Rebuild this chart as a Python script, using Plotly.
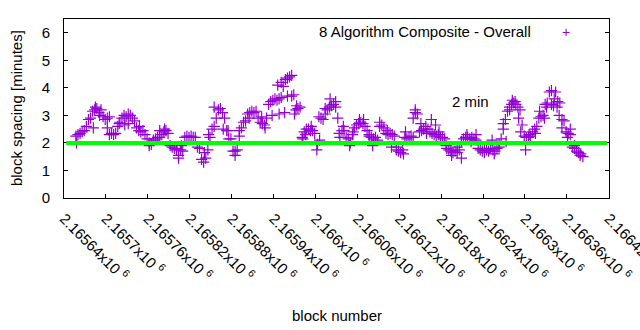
import plotly.graph_objects as go

# ---------------- data ----------------
# main track: one reading every 3 blocks, starting at block 2165657
main_start = 2165657
main_step = 3
main_values = [
    2.25, 2.3, 2.35, 2.4, 2.45, 2.6, 2.85, 2.9, 3.15, 3.2,
    3.25, 3.1, 3.2, 2.95, 2.85, 2.9, 2.95, 2.35, 2.3, 2.35,
    2.6, 2.75, 2.9, 3.0, 2.95, 2.7, 3.0, 2.9, 2.8, 2.55,
    2.45, 2.4, 2.45, 2.3, 2.15, 2.0, 1.95, 2.1, 2.15, 2.2,
    2.2, 2.3, 2.4, 2.45, 2.35, 1.9, 1.85, 1.8, 1.75, 1.55,
    1.75, 1.7, 2.2, 2.25, 2.2, 2.25, 2.2, 2.2, 1.85, 1.8,
    1.4, 1.3, 1.45, 1.75, 2.2, 2.5, 2.6, 2.9, 3.2, 3.25,
    3.1, 2.9, 2.45, 2.15, 2.15, 1.7, 1.7, 1.75, 2.25, 2.55,
    2.75, 2.8, 3.05, 3.1, 3.15, 3.1, 3.15, 2.9, 2.75, 2.7,
    2.65, 2.9, 3.4, 3.5, 3.55, 3.6, 3.55, 3.6, 3.65, 4.05,
    4.3, 4.35, 4.4, 3.7, 3.75, 3.2, 3.25, 3.3, 2.2, 2.4,
    2.5, 2.5, 2.45, 2.45, 2.35, 1.75, 2.95, 2.9, 2.85, 3.25,
    3.2, 3.3, 3.35, 3.4, 3.5, 2.9, 2.2, 2.45, 2.45, 2.2,
    2.15, 2.0, 2.3, 2.55, 2.65, 2.7, 2.75, 2.7, 2.6, 2.45,
    2.25, 2.2, 2.15, 2.2, 2.1, 2.6, 2.65, 2.55, 2.35, 2.3,
    2.35, 2.3, 2.25, 1.75, 1.7, 1.65, 1.75, 2.2, 2.15, 2.2,
    2.25, 2.2, 3.1, 3.05, 2.4, 2.45, 2.5, 2.6, 2.5, 2.4,
    2.35, 2.3, 2.25, 2.3, 2.2, 2.2, 2.15, 1.8, 1.75, 1.7,
    1.65, 1.7, 1.65, 1.75, 2.05, 2.15, 2.2, 2.2, 2.15, 2.2,
    2.15, 2.1, 1.8, 1.75, 1.7, 1.75, 1.75, 1.7, 1.8, 1.75,
    1.7, 1.8, 1.85, 2.15, 2.5, 2.85, 3.15, 3.3, 3.4, 3.45,
    3.4, 3.3, 3.2, 2.65, 2.25, 2.2, 2.2, 2.25, 2.4, 2.5,
    2.6, 2.9, 2.95, 3.0, 3.4, 3.45, 3.85, 3.4, 3.35, 3.85,
    3.5, 3.45, 2.85, 2.8, 2.4, 2.35, 2.3, 1.85, 1.8, 1.7,
    1.65, 1.6,
]

# scattered readings between / around the main track
extra_blocks = [
    2165658, 2165682, 2165685, 2165691, 2165702, 2165705, 2165719, 2165727,
    2165732, 2165748, 2165762, 2165777, 2165784, 2165804, 2165808, 2165841,
    2165847, 2165855, 2165868, 2165875, 2165885, 2165891, 2165905, 2165923,
    2165928, 2165938, 2165946, 2165948, 2165951, 2165956, 2165960, 2165966,
    2165970, 2165973, 2165982, 2165986, 2165994, 2166003, 2166006, 2166014,
    2166021, 2166029, 2166034, 2166040, 2166049, 2166054, 2166063, 2166069,
    2166077, 2166082, 2166092, 2166103, 2166109, 2166116, 2166126, 2166129,
    2166140, 2166143, 2166151, 2166159, 2166166, 2166172, 2166177, 2166187,
    2166195, 2166203, 2166209, 2166217, 2166223, 2166230, 2166242, 2166253,
    2166256, 2166263, 2166269, 2166273, 2166278, 2166282, 2166286, 2166291,
    2166294, 2166301, 2166306, 2166315, 2166321, 2166328, 2166331, 2166338,
    2166342, 2166346, 2166349, 2166353, 2166361, 2166365, 2166371, 2166379,
    2166383,
]
extra_values = [
    2.0, 2.55, 3.3, 3.0, 2.55, 2.3, 2.7, 2.65,
    3.05, 2.6, 1.9, 2.45, 2.5, 1.45, 1.9, 1.65,
    2.3, 3.3, 2.5, 2.45, 1.55, 2.45, 2.9, 2.95,
    2.55, 3.0, 4.1, 3.05, 4.2, 3.1, 3.7, 4.45,
    3.05, 3.35, 2.15, 2.3, 2.6, 1.95, 2.1, 3.05,
    3.6, 3.3, 2.35, 2.6, 1.9, 2.4, 2.85, 2.85,
    2.3, 1.9, 2.75, 2.45, 1.85, 1.85, 1.6, 2.4,
    2.9, 3.2, 2.7, 2.35, 2.85, 2.65, 2.4, 1.9,
    1.55, 1.85, 1.45, 2.3, 2.05, 2.3, 1.65, 2.1,
    1.6, 1.95, 2.7, 2.05, 3.2, 3.55, 3.5, 2.9,
    2.4, 1.75, 2.3, 2.35, 3.15, 2.9, 3.3, 3.9,
    3.6, 3.3, 3.0, 2.55, 2.2, 2.5, 1.9, 1.55,
    1.5,
]

x_tick_vals = [2165640 + 60 * i for i in range(14)]
x_tick_mant = ["2.16564", "2.1657", "2.16576", "2.16582", "2.16588", "2.16594",
               "2.166", "2.16606", "2.16612", "2.16618", "2.16624", "2.1663",
               "2.16636", "2.16642"]
y_tick_vals = [0, 1, 2, 3, 4, 5, 6]
target_minutes = 2

series_name = "8 Algorithm Composite - Overall"

# ---------------- figure ----------------
main_blocks = list(range(main_start, main_start + main_step * len(main_values), main_step))
blocks = main_blocks + extra_blocks
values = main_values + extra_values

PURPLE = "#9400D3"
FONT = "Liberation Sans, Arial, sans-serif"

fig = go.Figure()
fig.add_trace(go.Scatter(
    x=blocks, y=values, mode="markers", name=series_name, showlegend=False,
    marker=dict(symbol="cross-thin", size=8, color=PURPLE,
                line=dict(width=1.2, color=PURPLE)),
))

fig.add_shape(type="line", xref="paper", yref="y", x0=0.004, x1=0.996,
              y0=target_minutes, y1=target_minutes,
              line=dict(color="#00FF00", width=4), layer="above")

fig.update_layout(
    width=640, height=330,
    margin=dict(l=64, r=31, t=19, b=132, pad=0, autoexpand=False),
    paper_bgcolor="white", plot_bgcolor="white",
    font=dict(family=FONT, size=15, color="black"),
    showlegend=False,
)
fig.update_xaxes(
    range=[2165640, 2166420.4], tickvals=x_tick_vals,
    ticktext=[m + "x10 <sup>6</sup>" for m in x_tick_mant],
    tickangle=45, ticks="inside", ticklen=4, tickcolor="black",
    showline=True, linecolor="black", linewidth=1, mirror=True,
    showgrid=False, zeroline=False, ticklabelstandoff=5,
    ticklabeloverflow="allow", automargin=False,
    tickfont=dict(family=FONT, size=15, color="black"),
)
fig.update_yaxes(
    range=[0, 6.5], tickvals=y_tick_vals,
    ticks="inside", ticklen=4, tickcolor="black",
    showline=True, linecolor="black", linewidth=1, mirror="ticks",
    showgrid=False, zeroline=False, ticklabelstandoff=10, automargin=False,
    tickfont=dict(family=FONT, size=15, color="black"),
)

fig.add_annotation(text="block spacing [minutes]", xref="paper", yref="paper",
                   x=-0.087, y=0.5, textangle=-90, showarrow=False,
                   xanchor="center", yanchor="middle",
                   font=dict(family=FONT, size=15, color="black"))
fig.add_annotation(text="block number", xref="paper", yref="paper",
                   x=0.5, y=-0.655, showarrow=False,
                   xanchor="center", yanchor="middle",
                   font=dict(family=FONT, size=15, color="black"))
fig.add_annotation(text=series_name, xref="paper", yref="paper",
                   x=0.86, y=0.929, showarrow=False,
                   xanchor="right", yanchor="middle",
                   font=dict(family=FONT, size=15, color="black"))
fig.add_annotation(text="+", xref="paper", yref="paper",
                   x=0.922, y=0.929, showarrow=False,
                   xanchor="center", yanchor="middle",
                   font=dict(family=FONT, size=14, color=PURPLE))
fig.add_annotation(text="2 min", xref="x", yref="y",
                   x=2166193, y=3.5, showarrow=False,
                   xanchor="left", yanchor="middle",
                   font=dict(family=FONT, size=15, color="black"))

fig.write_html("out.html")
